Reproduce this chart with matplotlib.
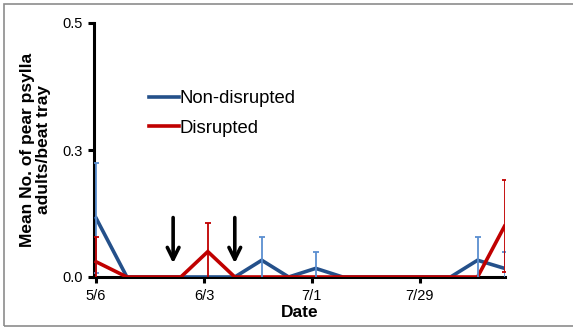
#!/usr/bin/env python3
"""Pear psylla adults per beat tray, disrupted vs non-disrupted blocks."""

from datetime import datetime, timedelta

import matplotlib
matplotlib.use('Agg')
import matplotlib.pyplot as plt
from matplotlib.patches import Rectangle

plt.rcParams['font.family'] = ['Liberation Sans', 'DejaVu Sans']

# sampling dates (month/day) and means +/- SE
dates = ["5/6", "5/14", "5/21", "5/28", "6/4", "6/11", "6/18", "6/25",
         "7/2", "7/9", "7/16", "7/23", "7/30", "8/6", "8/13", "8/20"]
non_disrupted = [0.116, 0, 0, 0, 0, 0, 0.033, 0,
                 0.017, 0, 0, 0, 0, 0, 0.033, 0.017]
non_disrupted_se = [0.108, 0, 0, 0, 0, 0, 0.045, 0,
                    0.032, 0, 0, 0, 0, 0, 0.045, 0.032]
disrupted = [0.030, 0, 0, 0, 0.05, 0, 0, 0,
             0, 0, 0, 0, 0, 0, 0, 0.10]
disrupted_se = [0.049, 0, 0, 0, 0.057, 0, 0, 0,
                0, 0, 0, 0, 0, 0, 0, 0.09]

arrow_dates = ["5/26", "6/11"]
tick_dates = ["5/6", "6/3", "7/1", "7/29"]
y_ticks = [0, 0.25, 0.5]
y_ticklabels = ["0.0", "0.3", "0.5"]


def to_date(s):
    return datetime.strptime(s + "/2013", "%m/%d/%Y")


x = [to_date(d) for d in dates]

fig = plt.figure(figsize=(5.73, 3.27), dpi=100)
ax = fig.add_axes([93.5 / 573, 1 - 277 / 327, (505 - 93.5) / 573, (277 - 23) / 327])

blue = '#24508a'
blue_err = '#5b8fd0'
red = '#c00000'


def draw_errors(vals, errs, color):
    xs = [xi for xi, e in zip(x, errs) if e > 0]
    ys = [v for v, e in zip(vals, errs) if e > 0]
    es = [e for e in errs if e > 0]
    ax.errorbar(xs, ys, yerr=es, fmt='none', ecolor=color, elinewidth=1.3,
                capsize=2.5, capthick=1.3, zorder=4)


ax.plot(x, non_disrupted, color=blue, lw=2.6, label='Non-disrupted', zorder=3,
        solid_joinstyle='miter')
ax.plot(x, disrupted, color=red, lw=2.6, label='Disrupted', zorder=3.5,
        solid_joinstyle='miter')
draw_errors(non_disrupted, non_disrupted_se, blue_err)
draw_errors(disrupted, disrupted_se, red)

for d in arrow_dates:
    ax.annotate('', xy=(to_date(d), 0.027), xytext=(to_date(d), 0.117),
                arrowprops=dict(arrowstyle='->,head_length=0.85,head_width=0.42',
                                color='black', lw=2.6, shrinkA=0, shrinkB=0))

ax.set_ylim(0, 0.5)
ax.set_xlim(to_date("5/6") - timedelta(hours=16), to_date("8/20") + timedelta(hours=3))
ax.set_yticks(y_ticks)
ax.set_yticklabels(y_ticklabels, fontsize=10.5)
ax.set_xticks([to_date(d) for d in tick_dates])
ax.set_xticklabels(tick_dates, fontsize=10.5)

for side in ['top', 'right']:
    ax.spines[side].set_visible(False)
for side in ['left', 'bottom']:
    ax.spines[side].set_linewidth(2.2)
ax.tick_params(axis='both', direction='out', width=2.2, length=4)
ax.tick_params(axis='x', pad=5)

ax.set_xlabel('Date', fontsize=12.5, fontweight='bold', labelpad=1)
ax.set_ylabel('Mean No. of pear psylla\nadults/beat tray', fontsize=12.5,
              fontweight='bold', labelpad=8, linespacing=1.1)

ax.legend(loc='upper left', bbox_to_anchor=(0.135, 0.735), frameon=False,
          fontsize=13.3, handlelength=1.62, handletextpad=0.05, labelspacing=0.68,
          borderpad=0, borderaxespad=0)

# thin grey frame around the chart area, as in the original
fig.patches.append(Rectangle((4 / 573, 1.5 / 327), 1.2, 1 - 5.5 / 327,
                             transform=fig.transFigure, fill=False,
                             edgecolor='#8c8c8c', lw=1.2))

fig.savefig('out.png', dpi=100)
